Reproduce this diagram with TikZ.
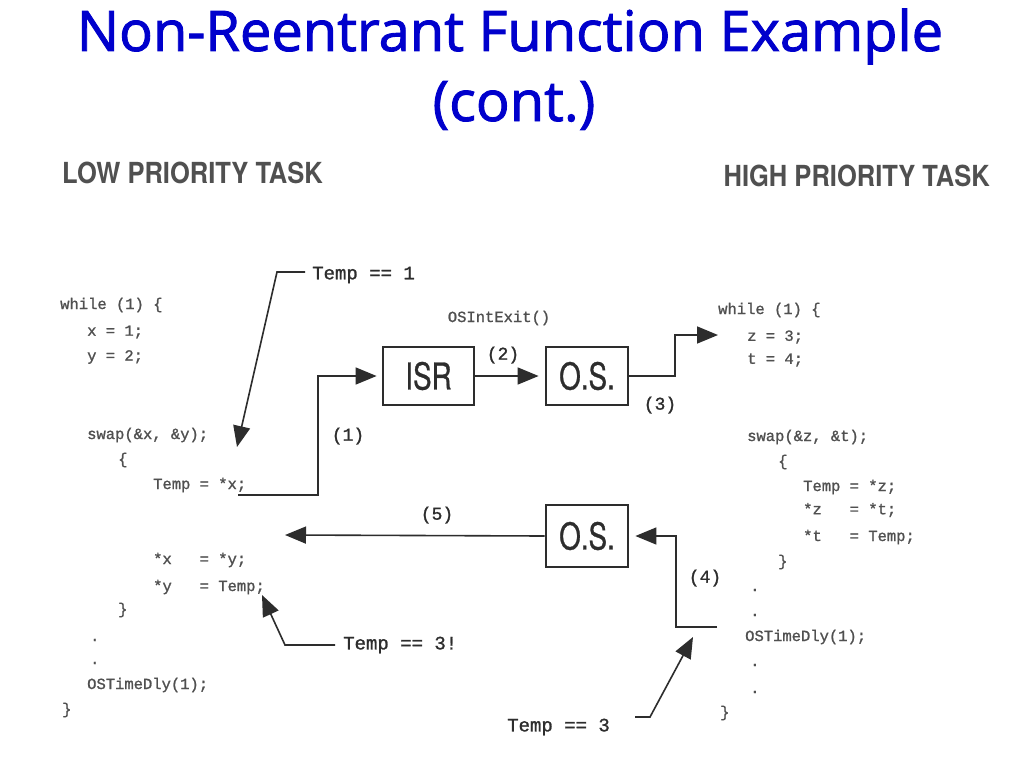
\documentclass[tikz,border=0pt]{standalone}
\usepackage{fontspec}
\setmainfont{Open Sans}
\setmonofont{Liberation Mono}
\newfontfamily\codefont[FakeBold=1.2]{Liberation Mono}
\newfontfamily\titlefont[FakeBold=1.6]{Open Sans}
\newfontfamily\headfont[FakeStretch=0.88]{TeX Gyre Heros}
\newfontfamily\boxfont[FakeStretch=0.75,FakeBold=0.8]{TeX Gyre Heros}
\usetikzlibrary{arrows.meta}
\definecolor{titleblue}{RGB}{0,0,204}
\definecolor{ink}{RGB}{45,45,45}
\definecolor{codegray}{RGB}{80,80,80}
\definecolor{headgray}{RGB}{80,80,80}
\begin{document}
\begin{tikzpicture}[x=1pt,y=-1pt,
  code/.style={font=\codefont\fontsize{15.5}{18}\selectfont, text=codegray, anchor=west, inner sep=0pt},
  lbl/.style={font=\codefont\fontsize{19}{22}\selectfont, text=ink, inner sep=0pt},
  num/.style={font=\codefont\fontsize{18}{22}\selectfont, text=ink, inner sep=0pt},
  blk/.style={draw=ink, line width=2.8pt, minimum height=58pt, inner sep=0pt,
              font=\boxfont\fontsize{37}{40}\selectfont, text=ink},
  head/.style={font=\headfont\bfseries\fontsize{29}{32}\selectfont, text=headgray, inner sep=0pt},
  conn/.style={draw=ink, line width=1.6pt},
  arr/.style={conn, -{Triangle[length=21pt,width=17pt]}}
]
\useasboundingbox (0,0) rectangle (1024,768);
\fill[white] (0,0) rectangle (1024,768);

% title
\node[font=\titlefont\fontsize{56}{60}\selectfont, text=titleblue, anchor=base, inner sep=0pt] (title1) at (510,51) {Non-Reentrant Function Example};
\node[font=\titlefont\fontsize{56}{60}\selectfont, text=titleblue, anchor=base, inner sep=0pt] (title2) at (514,121) {(cont.)};

% headers
\node[head, anchor=base west] (lowh) at (62,183) {LOW PRIORITY TASK};
\node[head, anchor=base east] (highh) at (990,186) {HIGH PRIORITY TASK};

% left code
\node[code] (lw1) at (60,305) {while (1) \{};
\node[code] (lw2) at (87,332) {x = 1;};
\node[code] (lw3) at (87,357) {y = 2;};
\node[code] (lw4) at (87,435) {swap(\&x, \&y);};
\node[code] (lw5) at (118,460) {\{};
\node[code] (lw6) at (153,485) {Temp = *x;};
\node[code] (lw7) at (153,560) {*x\ \ \ = *y;};
\node[code] (lw8) at (153,587) {*y\ \ \ = Temp;};
\node[code] (lw9) at (118,610) {\}};
\node[code] (lw10) at (90,640) {.};
\node[code] (lw11) at (90,663) {.};
\node[code] (lw12) at (87,685) {OSTimeDly(1);};
\node[code] (lw13) at (62,710) {\}};

% right code
\node[code] (rw1) at (718,310) {while (1) \{};
\node[code] (rw2) at (747,337) {z = 3;};
\node[code] (rw3) at (747,360) {t = 4;};
\node[code] (rw4) at (747,437) {swap(\&z, \&t);};
\node[code] (rw5) at (778,462) {\{};
\node[code] (rw6) at (803,487) {Temp = *z;};
\node[code] (rw7) at (803,510) {*z\ \ \ = *t;};
\node[code] (rw8) at (803,537) {*t\ \ \ = Temp;};
\node[code] (rw9) at (778,562) {\}};
\node[code] (rw10) at (750,590) {.};
\node[code] (rw11) at (750,615) {.};
\node[code] (rw12) at (745,637) {OSTimeDly(1);};
\node[code] (rw13) at (750,665) {.};
\node[code] (rw14) at (750,692) {.};
\node[code] (rw15) at (720,713) {\}};

% boxes
\node[blk, minimum width=91pt] (isr) at (428.5,376) {ISR};
\node[blk, minimum width=82pt] (os1) at (587,376) {O.S.};
\node[blk, minimum width=82pt, minimum height=62pt] (os2) at (587,536) {O.S.};

% labels
\node[code, anchor=center] (osint) at (499,318) {OSIntExit()};
\node[lbl, anchor=west] (t1) at (312,275) {Temp == 1};
\node[lbl, anchor=west] (t3x) at (343,645) {Temp == 3!};
\node[lbl, anchor=west] (t3) at (507,727) {Temp == 3};
\node[num] (n1) at (348,436) {(1)};
\node[num] (n2) at (503,355) {(2)};
\node[num] (n3) at (660,405) {(3)};
\node[num] (n4) at (705,578) {(4)};
\node[num] (n5) at (437,515) {(5)};

% coordinates
\coordinate (c1s) at (238,495);
\coordinate (c3t) at (718,335);
\coordinate (c4s) at (717,627);
\coordinate (c5t) at (285,535);
\coordinate (a1s) at (305,272);
\coordinate (a1tip) at (237,447);
\coordinate (a2s) at (335,645);
\coordinate (a2tip) at (262,595);
\coordinate (a3s) at (635,717);
\coordinate (a3tip) at (693,637);

% connectors
\draw[arr, shorten >=5pt] (c1s) -- (318,495) -- (318,376) -- (isr.west);
\draw[arr, shorten >=6pt] (isr.east) -- (os1.west);
\draw[arr] (os1.east) -- (675,376) -- (675,335) -- (c3t);
\draw[arr, shorten >=6pt] (c4s) -- (676,627) -- (676,536) -- (os2.east);
\draw[arr] (os2.west) -- (c5t);
\draw[arr] (a1s) -- (277,272) -- (a1tip);
\draw[arr] (a2s) -- (285,645) -- (a2tip);
\draw[arr] (a3s) -- (650,717) -- (a3tip);
\end{tikzpicture}
\end{document}
